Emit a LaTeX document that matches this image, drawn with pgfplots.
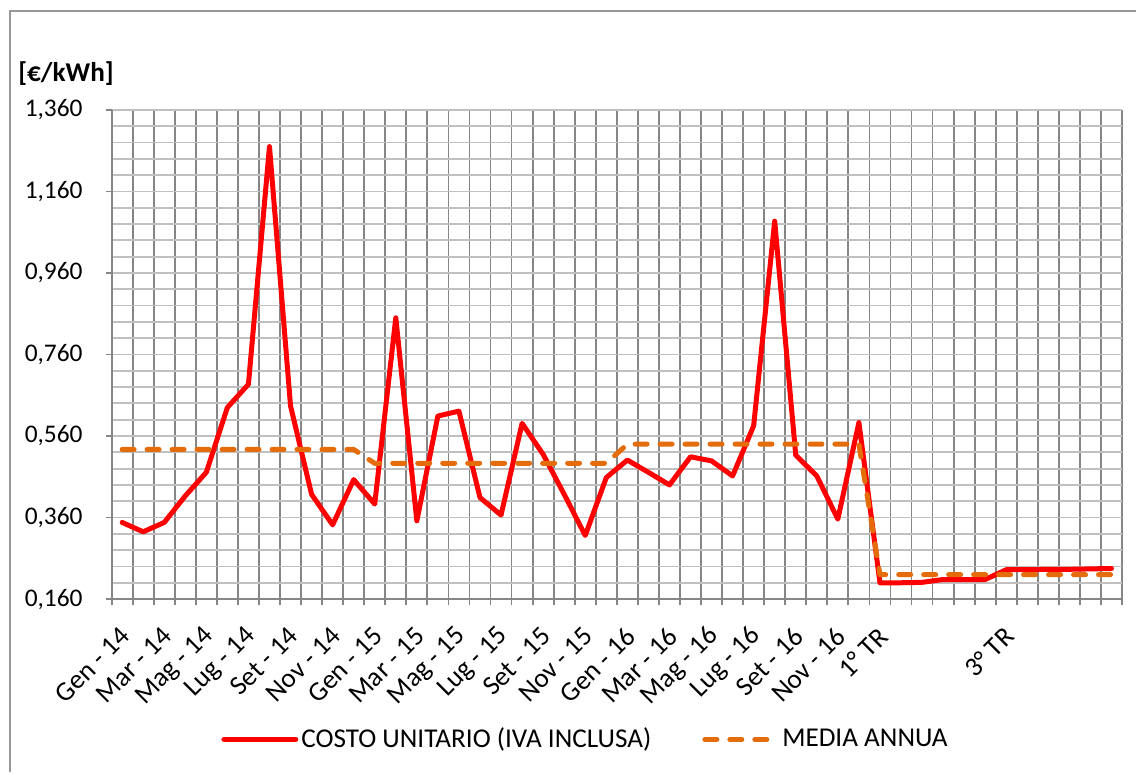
\documentclass[border=0pt]{standalone}
\usepackage{fontspec}
\setmainfont{Carlito}
\usepackage{pgfplots}
\usepackage{pgfplotstable}
\pgfplotsset{compat=1.18}

\definecolor{costo}{RGB}{255,0,0}
\definecolor{media}{RGB}{228,108,10}
\definecolor{gridv}{RGB}{134,134,134}
\definecolor{gridh}{RGB}{192,192,192}

% mesi 2014-2016, poi 2017 per trimestri (3 posti ciascuno)
\pgfplotstableread{
x  costo  media
0  0.348  0.527
1  0.325  0.527
2  0.348  0.527
3  0.413  0.527
4  0.471  0.527
5  0.630  0.527
6  0.687  0.527
7  1.270  0.527
8  0.634  0.527
9  0.417  0.527
10 0.342  0.527
11 0.453  0.527
12 0.393  0.493
13 0.850  0.493
14 0.352  0.493
15 0.609  0.493
16 0.621  0.493
17 0.409  0.493
18 0.366  0.493
19 0.591  0.493
20 0.515  0.493
21 0.417  0.493
22 0.316  0.493
23 0.458  0.493
24 0.501  0.540
25 0.471  0.540
26 0.440  0.540
27 0.509  0.540
28 0.499  0.540
29 0.462  0.540
30 0.585  0.540
31 1.087  0.540
32 0.513  0.540
33 0.462  0.540
34 0.356  0.540
35 0.593  0.540
36 0.200  0.220
37 0.200  0.220
38 0.201  0.220
39 0.208  0.220
40 0.208  0.220
41 0.208  0.220
42 0.232  0.220
43 0.232  0.220
44 0.233  0.220
45 0.233  0.220
46 0.234  0.220
47 0.235  0.220
}\dati

\newcommand{\lblfont}{\fontsize{12.7}{15}\selectfont}
\newcommand{\bigfont}{\fontsize{13.6}{16}\selectfont}

\begin{document}
\begin{tikzpicture}[x=1pt,y=1pt]
  \path (0,0) rectangle (568.5,386.5);
  \draw[gridv!85, line width=1pt] (5,0) -- (5,381) -- (568.5,381);
  \node[anchor=west, inner sep=0pt, font=\bfseries\bigfont] at (9,349.5) {[€/kWh]};
  \begin{axis}[
    at={(55.85pt,86.7pt)}, anchor=south west,
    scale only axis, width=505.65pt, height=244.8pt,
    xmin=-0.5, xmax=47.5, ymin=0.16, ymax=1.36,
    xtick={0,2,...,46},
    xticklabels={Gen - 14, Mar - 14, Mag - 14, Lug - 14, Set - 14, Nov - 14,
      Gen - 15, Mar - 15, Mag - 15, Lug - 15, Set - 15, Nov - 15,
      Gen - 16, Mar - 16, Mag - 16, Lug - 16, Set - 16, Nov - 16,
      1° TR, {}, {}, 3° TR, {}, {}},
    minor xtick={-0.5,0.5,...,47.5},
    ytick={0.16,0.36,0.56,0.76,0.96,1.16,1.36},
    minor y tick num=4,
    xmajorgrids=false, xminorgrids=true,
    ymajorgrids=true, yminorgrids=true,
    x grid style={gridv, line width=0.9pt},
    y grid style={gridh, line width=0.9pt},
    axis x line*=bottom, axis y line*=left,
    axis line style={gridv, line width=0.9pt},
    tick align=outside,
    major tick length=3pt, minor tick length=3pt,
    tick style={gridv, line width=0.9pt},
    major x tick style={draw=none},
    minor y tick style={draw=none},
    /pgf/number format/assume math mode=true,
    yticklabel style={font=\lblfont, xshift=-8pt,
      /pgf/number format/.cd, fixed, fixed zerofill, precision=3, use comma},
    xticklabel style={font=\bigfont, xshift=4pt, rotate=45, anchor=east},
    xticklabel shift=11pt,
    legend style={at={(0.4695,-0.287)}, anchor=center, draw=none, fill=none,
      font=\bigfont, legend columns=2, nodes={inner xsep=1.5pt},
      /tikz/every even column/.append style={column sep=24pt}},
    legend image code/.code={\draw[#1] (0pt,0pt) -- (36pt,0pt);},
  ]
    \addplot[costo, line width=2.5pt, line join=round, line cap=round]
      table[x=x, y=costo] {\dati};
    \addlegendentry{COSTO UNITARIO (IVA INCLUSA)}
    \addplot[media, line width=2.5pt, line join=round, line cap=round,
      dash pattern=on 6pt off 6.5pt]
      table[x=x, y=media] {\dati};
    \addlegendentry{MEDIA ANNUA}
  \end{axis}
\end{tikzpicture}
\end{document}
